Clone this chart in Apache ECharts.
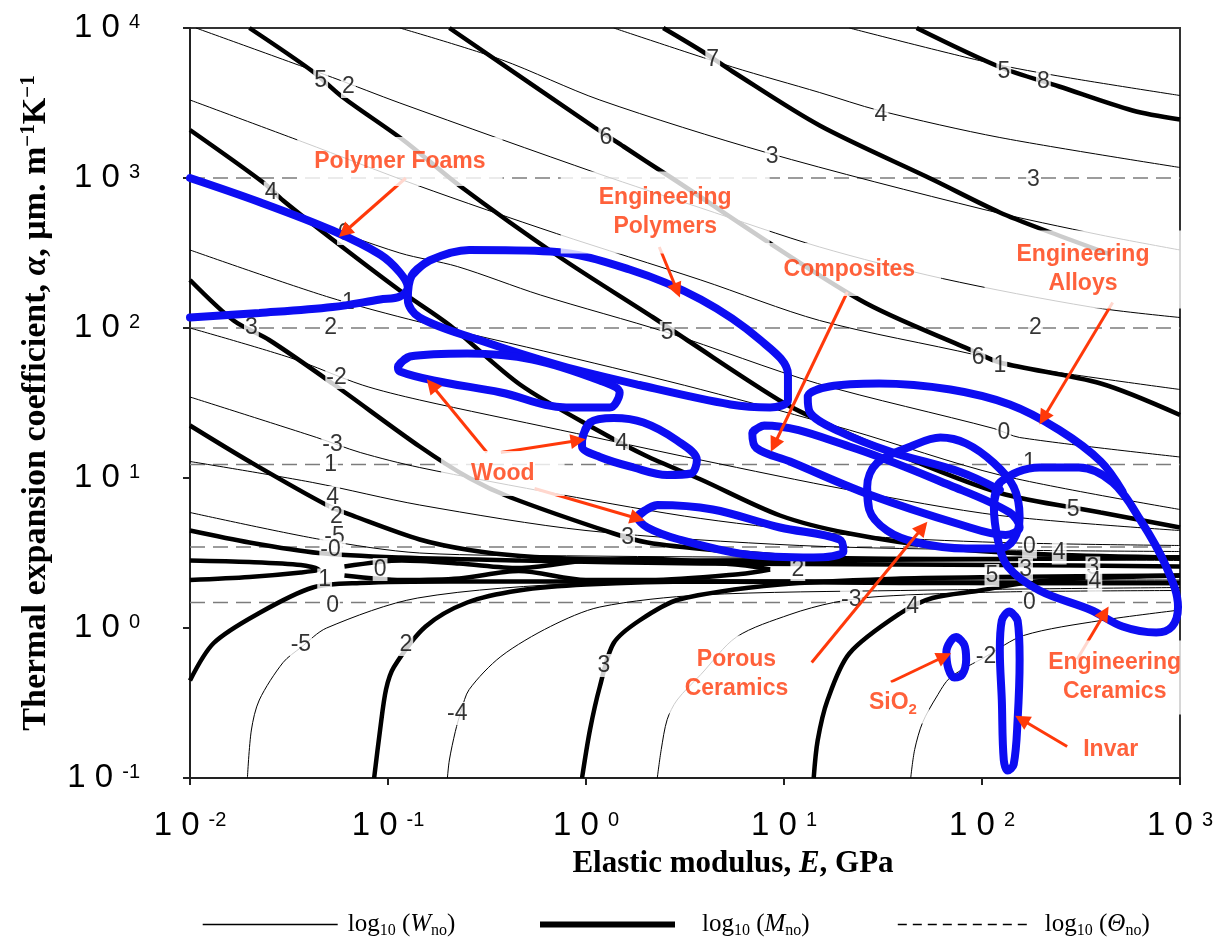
<!DOCTYPE html>
<html>
<head>
<meta charset="utf-8">
<script src="https://cdn.jsdelivr.net/npm/echarts@6/dist/echarts.min.js"></script>
<style>
  html, body { margin: 0; padding: 0; background: #fff; }
  #chart { width: 1220px; height: 940px; }
</style>
</head>
<body>
<div id="chart"></div>
<script>
// All traces are stored as [log10 E (GPa), log10 alpha (um/m/K)] pairs.

// log10(W_no) contours (thin)
const wLines = [
  [[1.33,4.00],[2.03,3.77],[2.43,3.67],[3.00,3.55]],
  [[0.14,4.00],[0.74,3.74],[1.18,3.57],[1.48,3.45],[2.09,3.27],[3.00,3.07]],
  [[-0.94,4.00],[-0.43,3.79],[0.07,3.52],[0.91,3.17],[2.01,2.79],[2.60,2.62],[3.00,2.52]],
  [[-1.97,4.00],[-1.28,3.67],[-0.94,3.50],[0.06,3.03],[0.58,2.80],[1.18,2.54],[1.80,2.33],[2.55,2.14],[3.00,2.07]],
  [[-2,3.52],[-1.43,3.24],[-0.85,2.95],[-0.15,2.63],[0.58,2.32],[1.18,2.05],[1.97,1.82],[2.16,1.75],[3.00,1.59]],
  [[-2,2.99],[-1.44,2.73],[-0.94,2.50],[-0.65,2.41],[-0.23,2.22],[0.41,1.97],[1.17,1.63],[2.06,1.33],[2.19,1.27],[3.00,1.14]],
  [[-2,2.52],[-1.31,2.21],[-0.84,2.04],[-0.13,1.82],[0.58,1.59],[1.33,1.32],[2.09,1.02],[3.00,0.79]],
  [[-2,2.00],[-1.49,1.80],[-1.13,1.62],[-0.84,1.52],[-0.13,1.32],[0.58,1.12],[1.33,0.92],[2.09,0.75],[3.00,0.65]],
  [[-2,1.54],[-1.36,1.27],[-1.14,1.17],[-0.84,1.07],[-0.13,0.89],[0.58,0.73],[1.33,0.62],[2.09,0.57],[3.00,0.55]],
  [[-2,1.11],[-1.38,0.97],[-0.84,0.82],[0.00,0.65],[1.08,0.55],[2.09,0.52],[3.00,0.51]],
  [[-2,0.77],[-1.34,0.59],[-0.84,0.50],[0.00,0.48],[1.08,0.47],[3.00,0.45]],
  [[-1.71,-1.00],[-1.69,-0.68],[-1.65,-0.48],[-1.53,-0.23],[-1.44,-0.13],[-1.31,0.00],[-0.85,0.20],[0.00,0.30],[1.08,0.32],[3.00,0.32]],
  [[-0.70,-1.00],[-0.69,-0.88],[-0.66,-0.69],[-0.63,-0.55],[-0.59,-0.41],[-0.43,-0.19],[-0.18,0.01],[0.07,0.14],[0.58,0.22],[1.59,0.25],[3.00,0.27]],
  [[0.36,-1.00],[0.38,-0.81],[0.41,-0.61],[0.46,-0.48],[0.58,-0.31],[0.76,-0.06],[1.03,0.09],[1.25,0.17],[1.48,0.21],[2.09,0.24],[3.00,0.25]],
  [[1.64,-1.00],[1.66,-0.81],[1.70,-0.63],[1.77,-0.46],[1.84,-0.33],[2.02,-0.19],[2.21,-0.05],[2.60,0.05],[3.00,0.12]]
];

// log10(M_no) contours (thick)
const mLines = [
  [[1.67,4.00],[2.09,3.74],[2.39,3.61],[2.76,3.45],[3.00,3.39]],
  [[0.39,4.00],[0.58,3.85],[0.74,3.71],[1.18,3.35],[1.75,2.99],[2.09,2.77],[2.34,2.64],[2.65,2.49]],
  [[-0.69,4.00],[0.04,3.34],[0.19,3.21],[0.41,3.02],[1.38,2.19],[1.95,1.85],[2.09,1.77],[2.60,1.63],[3.00,1.42]],
  [[-1.70,4.00],[-1.38,3.71],[-1.23,3.54],[-0.92,3.25],[-0.64,2.95],[-0.13,2.47],[0.34,2.07],[0.51,1.92],[1.00,1.50],[1.25,1.34],[1.55,1.17],[2.09,0.90],[2.60,0.77],[3.00,0.67]],
  [[-2,3.32],[-1.63,2.97],[-1.53,2.85],[-1.28,2.59],[-0.94,2.25],[-0.69,2.02],[-0.33,1.62],[0.07,1.31],[0.30,1.15],[0.58,0.99],[0.98,0.75],[1.33,0.63],[1.84,0.53],[2.34,0.49],[3.00,0.47]],
  [[-2,2.32],[-1.78,2.05],[-1.60,1.92],[-1.28,1.63],[-0.84,1.21],[-0.59,1.00],[-0.38,0.87],[0.14,0.63],[0.31,0.57],[0.64,0.52],[1.15,0.47],[2.09,0.46],[3.00,0.47]],
  [[-2,1.35],[-1.70,1.11],[-1.31,0.82],[-1.16,0.74],[-0.84,0.59],[-0.59,0.52],[-0.33,0.48],[0.00,0.46],[0.58,0.45],[2.09,0.46],[3.00,0.47]],
  [[-2,0.65],[-1.70,0.57],[-1.35,0.50],[-0.94,0.47],[-0.33,0.45],[0.58,0.43],[2.09,0.42],[3.00,0.41]],
  [[-2,0.45],[-1.70,0.44],[-1.44,0.42],[-1.35,0.39],[-1.44,0.37],[-1.70,0.34],[-2,0.32]],
  [[-1.22,0.41],[-0.93,0.45],[-0.64,0.43],[-0.34,0.40],[0.00,0.45],[0.32,0.46],[0.78,0.42],[0.93,0.39]],
  [[-1.22,0.35],[-0.93,0.32],[-0.64,0.33],[-0.34,0.38],[0.00,0.32],[0.32,0.32],[0.78,0.36],[0.93,0.39]],
  [[-2,-0.35],[-1.88,-0.10],[-1.65,0.10],[-1.38,0.27],[-1.14,0.30],[-0.69,0.31],[0.07,0.31],[1.08,0.31],[2.09,0.30],[3.00,0.30]],
  [[-1.07,-1.00],[-1.04,-0.68],[-1.01,-0.41],[-0.97,-0.26],[-0.81,0.01],[-0.60,0.17],[-0.34,0.25],[0.00,0.29],[0.58,0.31],[1.59,0.30],[3.00,0.30]],
  [[-0.02,-1.00],[0.02,-0.68],[0.07,-0.39],[0.14,-0.10],[0.27,0.05],[0.47,0.19],[0.98,0.29],[1.59,0.33],[2.09,0.34],[3.00,0.35]],
  [[1.15,-1.00],[1.17,-0.75],[1.22,-0.48],[1.33,-0.17],[1.59,0.10],[1.75,0.20],[1.99,0.25],[2.21,0.30],[2.49,0.33],[3.00,0.35]]
];

// log10(Theta_no) contours: horizontal levels of log10 alpha
const thetaLevels = [3.00, 2.00, 1.09, 0.54, 0.17];

// Material family envelopes
const polymerFoams = [[-2,3.00],[-1.65,2.84],[-1.28,2.65],[-1.04,2.49],[-0.94,2.37],[-0.90,2.27],[-0.94,2.21],[-1.04,2.19],[-1.28,2.14],[-1.65,2.10],[-2,2.07]];
const engPolymers = [[-0.88,2.35],[-0.79,2.45],[-0.59,2.52],[-0.18,2.51],[0.22,2.39],[0.58,2.19],[0.88,1.92],[1.02,1.69],[1.02,1.52],[0.93,1.47],[0.73,1.49],[0.27,1.62],[-0.13,1.75],[-0.54,1.92],[-0.84,2.07],[-0.90,2.19],[-0.88,2.35]];
const woodA = [[-0.95,1.74],[-0.89,1.81],[-0.60,1.83],[-0.27,1.79],[0.07,1.65],[0.17,1.57],[0.12,1.47],[-0.10,1.47],[-0.43,1.57],[-0.77,1.65],[-0.94,1.71],[-0.95,1.74]];
const woodB = [[-0.02,1.25],[0.02,1.37],[0.14,1.40],[0.29,1.37],[0.46,1.25],[0.56,1.12],[0.53,1.03],[0.41,1.02],[0.24,1.07],[0.07,1.14],[-0.02,1.21],[-0.02,1.25]];
const woodC = [[0.26,0.74],[0.36,0.82],[0.64,0.79],[0.98,0.67],[1.28,0.59],[1.30,0.51],[1.15,0.47],[0.81,0.49],[0.47,0.59],[0.31,0.67],[0.26,0.74]];
const composites = [[0.84,1.30],[0.90,1.35],[1.33,1.21],[1.84,0.95],[2.14,0.77],[2.19,0.67],[2.12,0.62],[1.89,0.69],[1.43,0.89],[1.03,1.11],[0.86,1.20],[0.84,1.30]];
const porousCeramics = [[1.43,0.79],[1.42,0.94],[1.47,1.10],[1.64,1.21],[1.79,1.27],[1.92,1.23],[2.06,1.10],[2.16,0.94],[2.19,0.74],[2.16,0.59],[2.09,0.53],[1.92,0.53],[1.67,0.57],[1.52,0.65],[1.43,0.79]];
const engAlloys = [[2.71,0.91],[2.60,1.11],[2.39,1.32],[2.14,1.49],[1.84,1.59],[1.48,1.63],[1.23,1.61],[1.12,1.54],[1.13,1.44],[1.28,1.31],[1.55,1.17],[1.89,1.04],[2.09,0.92]];
const engCeramics = [[2.06,0.81],[2.09,0.97],[2.29,1.07],[2.49,1.07],[2.66,0.97],[2.80,0.72],[2.93,0.41],[2.99,0.14],[2.96,0.01],[2.88,-0.03],[2.71,0.01],[2.55,0.12],[2.29,0.25],[2.13,0.41],[2.08,0.59],[2.06,0.81]];
const silica = [[1.87,-0.06],[1.91,-0.11],[1.92,-0.21],[1.90,-0.31],[1.86,-0.33],[1.83,-0.27],[1.82,-0.16],[1.84,-0.09],[1.87,-0.06]];
const invar = [[2.14,0.11],[2.18,0.05],[2.19,-0.21],[2.18,-0.61],[2.16,-0.91],[2.13,-0.95],[2.11,-0.88],[2.10,-0.48],[2.09,-0.15],[2.10,0.05],[2.14,0.11]];

const openFamilies = [polymerFoams, engAlloys];
const closedFamilies = [engPolymers, woodA, woodB, woodC, composites, porousCeramics, engCeramics, silica, invar];

// Callout names and where they sit
const calloutNames = ['Polymer Foams', 'Engineering\nPolymers', 'Composites', 'Engineering\nAlloys', 'Wood', 'Porous\nCeramics', 'SiO2', 'Engineering\nCeramics', 'Invar'];
const calloutAt = [[-0.94,3.11],[0.40,2.77],[1.33,2.39],[2.51,2.39],[-0.42,1.03],[0.76,-0.31],[1.55,-0.50],[2.67,-0.33],[2.65,-0.81]];
// Arrows: [from, to]
const arrows = [
  [[-0.91,3.00],[-1.22,2.64]],
  [[0.37,2.54],[0.46,2.25]],
  [[1.32,2.24],[0.95,1.22]],
  [[2.66,2.17],[2.31,1.40]],
  [[-0.50,1.17],[-0.78,1.62]],
  [[-0.43,1.17],[-0.04,1.25]],
  [[-0.26,0.93],[0.26,0.73]],
  [[1.14,-0.23],[1.70,0.67]],
  [[1.54,-0.36],[1.81,-0.19]],
  [[2.48,-0.21],[2.62,0.10]],
  [[2.43,-0.79],[2.20,-0.61]]
];

// Contour level labels: [log10 E, log10 alpha, text]
const contourLabels = [
  [-1.34,3.65,'5'],[-1.20,3.61,'2'],[-1.59,2.90,'4'],[-1.22,2.63,'0'],[0.10,3.27,'6'],[0.64,3.79,'7'],
  [0.94,3.14,'3'],[1.49,3.42,'4'],[2.11,3.71,'5'],[2.31,3.64,'8'],[2.26,2.99,'3'],[2.27,2.00,'2'],
  [-1.29,2.00,'2'],[-1.69,2.00,'3'],[-1.20,2.17,'1'],[0.41,1.97,'5'],[1.98,1.80,'6'],[2.09,1.75,'1'],
  [2.11,1.30,'0'],[-1.26,1.67,'-2'],[-1.28,1.22,'-3'],[-1.29,1.09,'1'],[-1.28,0.87,'4'],[-1.26,0.74,'2'],
  [-1.27,0.61,'-5'],[-1.29,0.52,'-0'],[-1.04,0.39,'0'],[-1.32,0.32,'1'],[-1.28,0.15,'0'],[-1.44,-0.11,'-5'],
  [-0.91,-0.11,'2'],[-0.65,-0.57,'-4'],[0.09,-0.25,'3'],[0.18,1.23,'4'],[0.21,0.60,'3'],[1.07,0.39,'2'],
  [1.34,0.19,'-3'],[1.65,0.14,'4'],[2.02,-0.19,'-2'],[2.24,1.10,'1'],[2.46,0.79,'5'],[2.24,0.54,'0'],
  [2.39,0.50,'4'],[2.56,0.40,'3'],[2.57,0.31,'4'],[2.24,0.17,'0'],[2.05,0.35,'5'],[2.22,0.39,'3']
];

const E_MIN = 0.01, E_MAX = 1000, A_MIN = 0.1, A_MAX = 10000;

const toReal = p => [Math.pow(10, p[0]), Math.pow(10, p[1])];
const closeLoop = pts => pts.concat([pts[1]]);

const SANS = 'Liberation Sans, Arial, sans-serif';
const SERIF = 'Liberation Serif, Times New Roman, serif';
const BLUE = '#0d0df2';
const RED = '#ff390a';

const series = [];

thetaLevels.forEach(v => {
  series.push({
    type: 'line', name: 'Θ', silent: true, symbol: 'none', z: 2,
    data: [[E_MIN, Math.pow(10, v)], [E_MAX, Math.pow(10, v)]],
    lineStyle: { color: '#7c7c7c', width: 1.6, type: [15, 8] }
  });
});
wLines.forEach(l => {
  series.push({
    type: 'line', name: 'W', silent: true, symbol: 'none', smooth: 0.3, z: 2,
    data: l.map(toReal), lineStyle: { color: '#000', width: 1 }
  });
});
mLines.forEach(l => {
  series.push({
    type: 'line', name: 'M', silent: true, symbol: 'none', smooth: 0.3, z: 2,
    data: l.map(toReal), lineStyle: { color: '#000', width: 4.5 }
  });
});

series.push({
  type: 'scatter', name: 'levels', silent: true, z: 3,
  symbolSize: 1, itemStyle: { color: 'rgba(0,0,0,0)' },
  data: contourLabels.map(d => ({ value: toReal(d), name: d[2] })),
  label: {
    show: true, position: 'inside', formatter: '{b}', color: '#000',
    fontFamily: SANS, fontSize: 23, backgroundColor: '#fff', padding: [0, 1]
  }
});

openFamilies.forEach(f => {
  series.push({
    type: 'line', name: 'family', silent: true, symbol: 'none', smooth: 0.35, z: 4,
    data: f.map(toReal), lineStyle: { color: BLUE, width: 8, cap: 'round' }
  });
});
closedFamilies.forEach(f => {
  series.push({
    type: 'line', name: 'family', silent: true, symbol: 'none', smooth: 0.35, z: 4,
    data: closeLoop(f).map(toReal), lineStyle: { color: BLUE, width: 8 }
  });
});

series.push({
  type: 'lines', coordinateSystem: 'cartesian2d', silent: true, z: 5,
  symbol: ['none', 'triangle'], symbolSize: 15,
  data: arrows.map(a => ({ coords: [toReal(a[0]), toReal(a[1])] })),
  itemStyle: { color: RED },
  lineStyle: { color: RED, width: 3, opacity: 1 }
});

const calloutPadding = {
  'Polymer Foams': [10, 17],
  'Engineering\nPolymers': [12, 38],
  'Composites': [12, 26],
  'Engineering\nAlloys': [10, 32],
  'Wood': [8, 30],
  'Porous\nCeramics': [10, 20],
  'SiO2': [6, 12],
  'Engineering\nCeramics': [8, 8],
  'Invar': [6, 10]
};
series.push({
  type: 'scatter', name: 'callouts', silent: true, z: 6,
  symbolSize: 1, itemStyle: { color: 'rgba(0,0,0,0)' },
  data: calloutNames.map((n, i) => ({
    value: toReal(calloutAt[i]), name: n,
    label: { padding: calloutPadding[n] }
  })),
  label: {
    show: true, position: 'inside', color: RED, fontFamily: SANS, fontSize: 23,
    fontWeight: 'bold', lineHeight: 29, backgroundColor: '#fff', align: 'center',
    formatter: p => p.name === 'SiO2' ? 'SiO{sub|2}' : p.name,
    rich: { sub: { fontFamily: SANS, fontSize: 15, fontWeight: 'bold', color: RED, verticalAlign: 'bottom', lineHeight: 15, padding: [10, 0, 0, 0] } }
  }
});

const expLabel = v => '{b|1 0}{s|' + Math.round(Math.log10(v)) + '}';
const tickRich = {
  b: { fontFamily: SANS, fontSize: 33, color: '#000', lineHeight: 36 },
  s: { fontFamily: SANS, fontSize: 20, color: '#000', lineHeight: 20, verticalAlign: 'top', padding: [2, 0, 0, 9] }
};

// Legend entries: each gets its own block so the three keys sit where drawn
const legendRich = {
  t: { fontFamily: SERIF, fontSize: 25, color: '#000', lineHeight: 28 },
  i: { fontFamily: SERIF, fontSize: 25, fontStyle: 'italic', color: '#000', lineHeight: 28 },
  s: { fontFamily: SERIF, fontSize: 16, color: '#000', lineHeight: 16, verticalAlign: 'bottom', padding: [7, 0, 0, 0] }
};
const legendKey = (name, left, gap, lineStyle) => ({
  left: left, top: 907, itemWidth: 135, itemHeight: 14, selectedMode: false,
  data: [{ name: name, lineStyle: lineStyle, itemStyle: { color: 'rgba(0,0,0,0)', borderWidth: 0, opacity: 0 } }],
  formatter: n => '{t|log}{s|10}{t| (}{i|' + n + '}{s|no}{t|)}',
  textStyle: { color: '#000', fontFamily: SERIF, fontSize: 25, padding: [0, 0, 0, gap], rich: legendRich }
});

const option = {
  animation: false,
  backgroundColor: '#fff',
  grid: { left: 190, right: 40, top: 28, bottom: 162, show: true, borderColor: '#333', borderWidth: 2, outerBoundsMode: 'none', containLabel: false },
  legend: [
    legendKey('W', 197, 5, { color: '#000', width: 1.4, type: 'solid' }),
    legendKey('M', 532, 22, { color: '#000', width: 6, type: 'solid' }),
    legendKey('Θ', 892, 7, { color: '#000', width: 1.6, type: [9, 6] })
  ],
  xAxis: {
    type: 'log', logBase: 10, min: E_MIN, max: E_MAX,
    axisLine: { show: true, lineStyle: { color: '#222', width: 2 } },
    axisTick: { show: true, length: 7, lineStyle: { color: '#222', width: 2 } },
    splitLine: { show: false }, minorTick: { show: false },
    axisLabel: { margin: 30, formatter: expLabel, rich: tickRich },
    name: '{t|Elastic modulus, }{i|E}{t|, GPa}',
    nameLocation: 'middle', nameGap: 70,
    nameTextStyle: {
      padding: [0, 0, 0, 96],
      rich: {
        t: { fontFamily: SERIF, fontSize: 31, fontWeight: 'bold', color: '#000' },
        i: { fontFamily: SERIF, fontSize: 31, fontWeight: 'bold', fontStyle: 'italic', color: '#000' }
      }
    }
  },
  yAxis: {
    type: 'log', logBase: 10, min: A_MIN, max: A_MAX,
    axisLine: { show: true, lineStyle: { color: '#222', width: 2 } },
    axisTick: { show: true, length: 7, lineStyle: { color: '#222', width: 2 } },
    splitLine: { show: false }, minorTick: { show: false },
    axisLabel: { margin: 50, formatter: expLabel, rich: tickRich },
    name: '{t|Thermal expansion coefficient, }{i|α}{t|, μm. m}{s|−1}{t|K}{s|−1}',
    nameLocation: 'middle', nameRotate: 90, nameGap: 136,
    nameTextStyle: {
      rich: {
        t: { fontFamily: SERIF, fontSize: 34, fontWeight: 'bold', color: '#000', lineHeight: 36 },
        i: { fontFamily: SERIF, fontSize: 34, fontWeight: 'bold', fontStyle: 'italic', color: '#000', lineHeight: 36 },
        s: { fontFamily: SERIF, fontSize: 21, fontWeight: 'bold', color: '#000', lineHeight: 21, verticalAlign: 'top' }
      }
    }
  },
  series: series
};

const chart = echarts.init(document.getElementById('chart'), null, { renderer: 'canvas' });
chart.setOption(option);
</script>
</body>
</html>
